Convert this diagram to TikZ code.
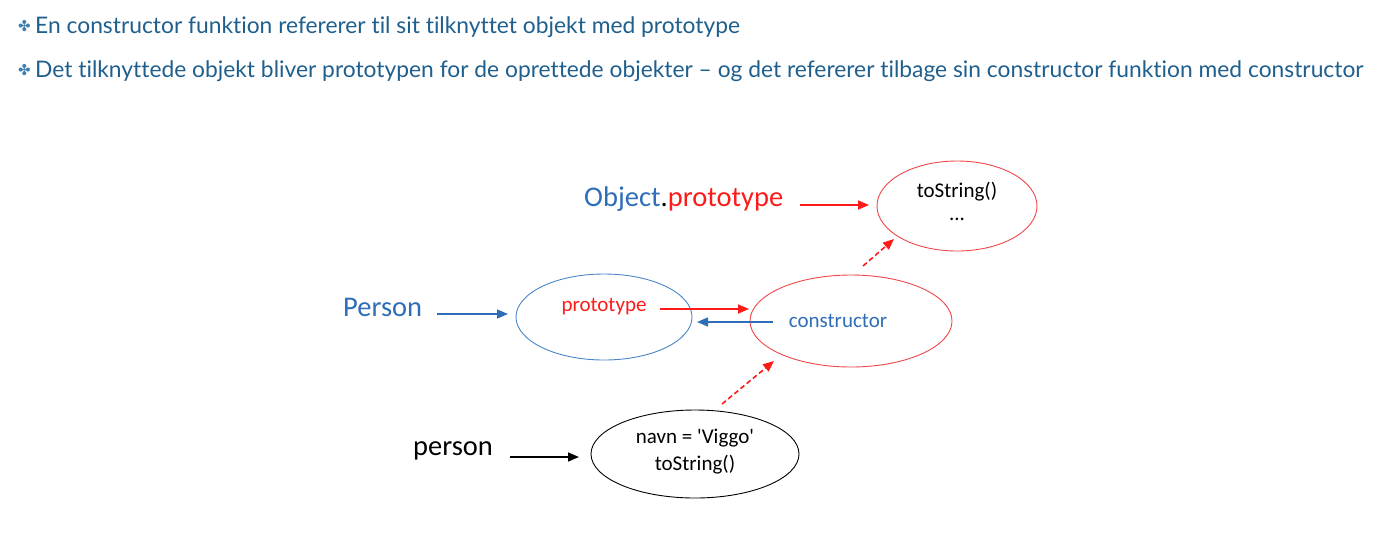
\documentclass[tikz,border=0pt]{standalone}
\usepackage{fontspec}
\setmainfont{Carlito}
\newfontfamily\headfont[Ligatures=NoCommon]{Lato}
\newfontfamily\symfont{DejaVu Sans}
\usetikzlibrary{arrows.meta,shapes.geometric}
\definecolor{headblue}{HTML}{1F5F8E}
\definecolor{bulblue}{HTML}{3F7FAF}
\definecolor{pblue}{HTML}{2E6DB8}
\definecolor{pred}{HTML}{FF1A1A}
\definecolor{ellred}{HTML}{F0474A}
\definecolor{ellblue}{HTML}{4A86C8}
\tikzset{
  x=1pt,y=-1pt,
  head/.style={anchor=west,inner sep=0pt,font=\headfont\fontsize{22.8}{26}\selectfont,text=headblue},
  bul/.style={anchor=west,inner sep=0pt,font=\symfont\fontsize{15}{17}\selectfont,text=bulblue},
  big/.style={inner sep=0pt,font=\fontsize{28.5}{32}\selectfont},
  small/.style={inner sep=0pt,font=\fontsize{21}{24}\selectfont,align=center},
  oval/.style={draw,ellipse,line width=0.9pt,inner sep=0pt},
  arr/.style={line width=1.6pt,-{Triangle[length=11pt,width=9pt]}},
  darr/.style={arr,dashed,dash pattern=on 5pt off 3pt}
}
\begin{document}
\begin{tikzpicture}
\useasboundingbox (0,0) rectangle (1383,558);
% bullets
\node[bul] (b1) at (18,26) {✤};
\node[head] (t1) at (35,27) {En constructor funktion refererer til sit tilknyttet objekt med prototype};
\node[bul] (b2) at (18,70) {✤};
\node[head] (t2) at (35,71) {Det tilknyttede objekt bliver prototypen for de oprettede objekter – og det refererer tilbage sin constructor funktion med constructor};
% Object.prototype
\node[big,anchor=west] (objp) at (584,199) {\textcolor{pblue}{Object}.\textcolor{pred}{prototype}};
\node[oval,draw=ellred,minimum width=160,minimum height=90] (e1) at (957,206) {};
\node[small] (ts1) at (957,192) {toString()};
\node[small] (dots) at (957,219) {...};
\coordinate (a1s) at (800,205);
\coordinate (a1e) at (869,205);
\draw[arr,pred] (a1s) -- (a1e);
% Person
\node[big,text=pblue,anchor=west] (Person) at (343,307) {Person};
\node[oval,draw=ellblue,minimum width=176,minimum height=86] (e2) at (604,317) {};
\node[small,text=pred] (proto) at (604,307) {prototype};
\coordinate (a2s) at (437,314);
\coordinate (a2e) at (508,314);
\draw[arr,pblue] (a2s) -- (a2e);
% constructor
\node[oval,draw=ellred,minimum width=202,minimum height=92] (e3) at (851,321) {};
\node[small,text=pblue] (cons) at (838,321) {constructor};
\coordinate (a3s) at (660,309);
\coordinate (a3e) at (749,309);
\draw[arr,pred] (a3s) -- (a3e);
\coordinate (a4s) at (773,322);
\coordinate (a4e) at (697,322);
\draw[arr,pblue] (a4s) -- (a4e);
\coordinate (a5s) at (863,266);
\coordinate (a5e) at (894,239);
\draw[darr,pred] (a5s) -- (a5e);
% person
\node[big,anchor=west] (person) at (413,451) {person};
\node[oval,draw=black,minimum width=208,minimum height=88] (e4) at (695,454) {};
\node[small] (navn) at (695,438) {navn = \textquotesingle Viggo\textquotesingle};
\node[small] (ts2) at (695,465) {toString()};
\coordinate (a6s) at (510,457);
\coordinate (a6e) at (579,457);
\draw[arr,black] (a6s) -- (a6e);
\coordinate (a7s) at (722,404);
\coordinate (a7e) at (774,361);
\draw[darr,pred] (a7s) -- (a7e);
\end{tikzpicture}
\end{document}
